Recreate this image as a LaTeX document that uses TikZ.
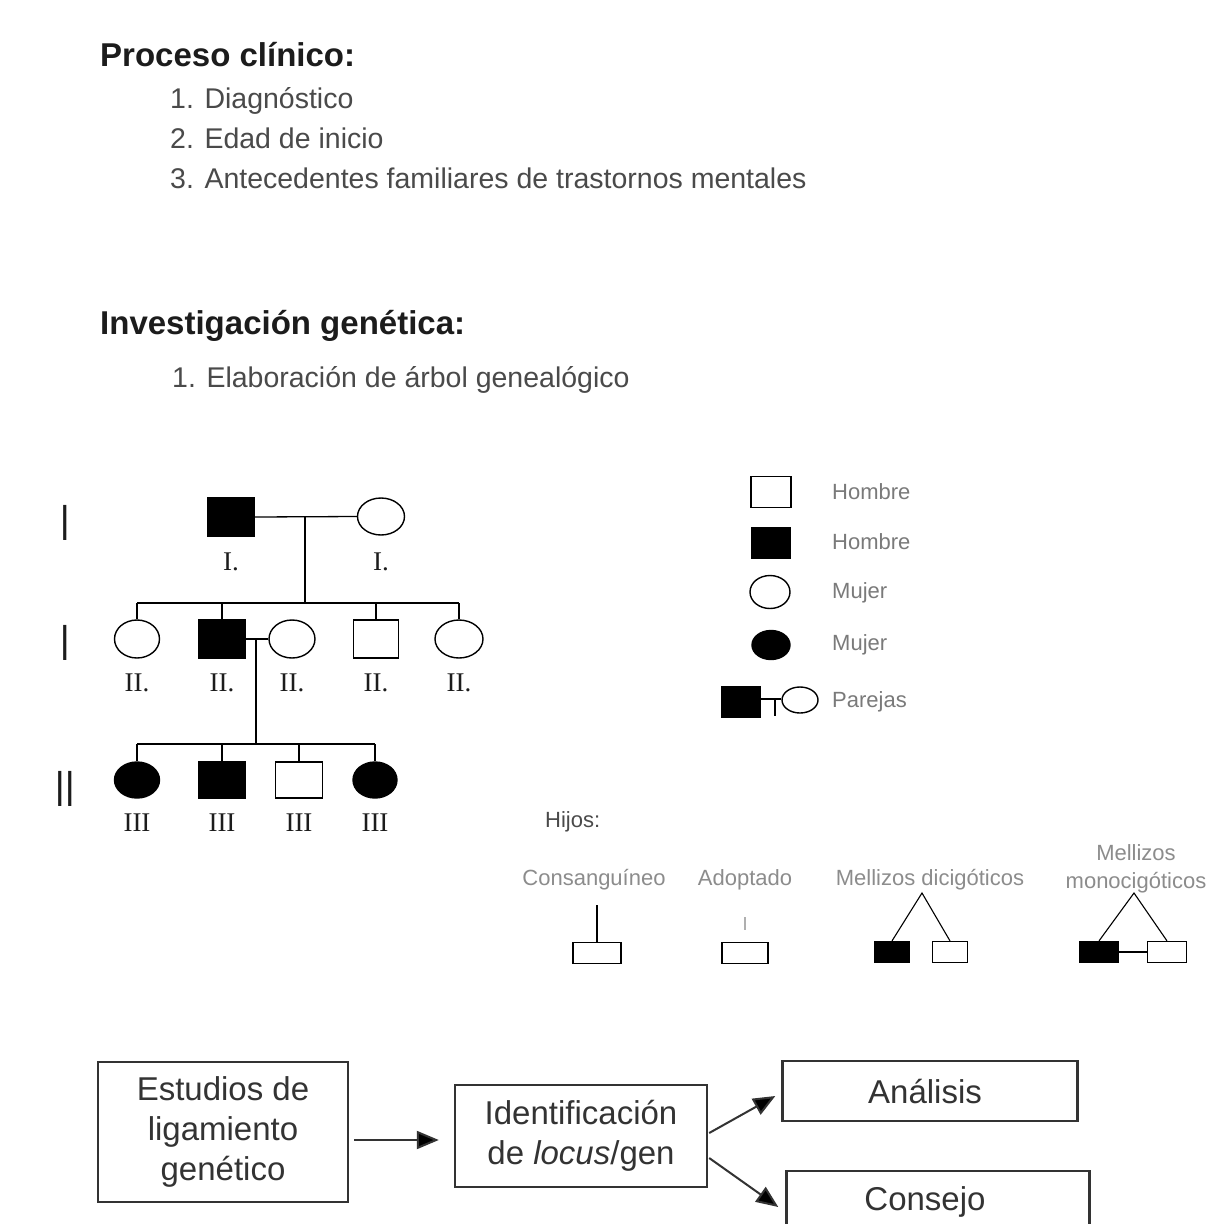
\documentclass[tikz,border=0pt]{standalone}
\usepackage{fontspec}
\setmainfont{Liberation Sans}
\newfontfamily\pedserif{Liberation Serif}
\usetikzlibrary{shapes.geometric,arrows.meta,calc}

\definecolor{inkdark}{HTML}{1C1C1C}
\definecolor{inktext}{HTML}{4A4A4A}
\definecolor{inklight}{HTML}{7A7A7A}
\definecolor{inkpale}{HTML}{8C8C8C}
\definecolor{boxline}{HTML}{333333}

\tikzset{
  heading/.style={anchor=base west, inner sep=0, text=inkdark,
    font=\fontsize{33}{33}\selectfont\bfseries},
  item/.style={anchor=base west, inner sep=0, text=inktext,
    font=\fontsize{28.5}{28.5}\selectfont},
  person/.style={draw=black, line width=1.4pt, inner sep=0},
  male/.style={person, rectangle, minimum width=46pt, minimum height=38pt},
  female/.style={person, ellipse, minimum width=46pt, minimum height=38pt},
  affected/.style={fill=black},
  kin/.style={line width=1.3pt, draw=black},
  idlabel/.style={inner sep=0, text=inkdark, font=\pedserif\fontsize{27}{27}\selectfont},
  genlabel/.style={inner sep=0, text=inkdark},
  legendtext/.style={anchor=west, inner sep=0, text=inklight,
    font=\fontsize{22}{22}\selectfont},
  smalltext/.style={inner sep=0, text=inkpale, font=\fontsize{22}{28}\selectfont,
    align=center},
  kidbox/.style={draw=black, line width=1.2pt, rectangle, inner sep=0,
    minimum width=46pt, minimum height=21pt},
  thin/.style={line width=1.1pt, draw=black},
  flowbox/.style={draw=boxline, line width=2.4pt, rectangle, inner sep=0,
    text=boxline, align=center, font=\fontsize{33}{40}\selectfont},
  flowarrow/.style={line width=2pt, draw=boxline,
    -{Triangle[length=22pt,width=18pt,fill=black]}}
}

\begin{document}
\begin{tikzpicture}[x=1pt,y=-1pt]
\useasboundingbox (0,0) rectangle (1215,1224);
\fill[white] (0,0) rectangle (1215,1224);
\clip (0,0) rectangle (1215,1224);

% ---- headings and lists ----
\node[heading] (h1) at (100,66) {Proceso clínico:};
\node[item] (p1) at (170,108) {1. Diagnóstico};
\node[item] (p2) at (170,148) {2. Edad de inicio};
\node[item] (p3) at (170,188) {3. Antecedentes familiares de trastornos mentales};

\node[heading] (h2) at (100,334) {Investigación genética:};
\node[item] (g1) at (172,387) {1. Elaboración de árbol genealógico};

% ---- generation markers ----
\node[genlabel] (gen1) at (65,523) {\scalebox{1}[1.5]{\fontsize{34}{34}\selectfont I}};
\node[genlabel] (gen2) at (65,643) {\scalebox{1}[1.5]{\fontsize{34}{34}\selectfont I}};
\node[genlabel] (gen3) at (65,789) {\scalebox{1}[1.5]{\fontsize{34}{34}\selectfont II}};

% ---- generation I ----
\node[male, affected] (f1) at (231,517) {};
\node[female, minimum width=47pt, minimum height=37pt] (m1) at (381,516.5) {};
\coordinate (c1) at (305,517);
\coordinate (s1) at (305,603);
\draw[kin] (f1.east) -- (m1.west);
\draw[kin] (c1) -- (s1);
\node[idlabel] (lf1) at (231,562) {I.};
\node[idlabel] (lm1) at (381,562) {I.};

% ---- generation II ----
\node[female, minimum width=45pt] (a2) at (137,639) {};
\node[male, affected] (b2) at (222,639) {};
\node[female] (c2) at (292,639) {};
\node[male, minimum width=45pt] (d2) at (376,639) {};
\node[female, minimum width=48pt] (e2) at (459,639) {};
\draw[kin] (a2.north |- s1) -- (e2.north |- s1);
\foreach \p in {a2,b2,d2,e2} \draw[kin] (\p.north |- s1) -- (\p.north);
\draw[kin] (b2.east) -- (c2.west);
\coordinate (c2j) at (256,639);
\coordinate (s2) at (256,744);
\draw[kin] (c2j) -- (s2);
\foreach \p in {a2,b2,c2,d2,e2}
  \node[idlabel] at (\p |- 0,683) {II.};

% ---- generation III ----
\node[female, affected, minimum width=45pt, minimum height=36pt] (f3) at (137,780) {};
\node[male, affected, minimum height=36pt] (g3) at (222,780) {};
\node[male, minimum width=47pt, minimum height=36pt] (h3) at (299,780) {};
\node[female, affected, minimum width=44pt, minimum height=36pt] (i3) at (375,780) {};
\draw[kin] (f3.north |- s2) -- (i3.north |- s2);
\foreach \p in {f3,g3,h3,i3} \draw[kin] (\p.north |- s2) -- (\p.north);
\foreach \p in {f3,g3,h3,i3}
  \node[idlabel] at (\p |- 0,823) {III};

% ---- legend ----
\node[male, minimum width=40pt, minimum height=31pt] (l1) at (771,492) {};
\node[male, affected, minimum width=38pt, minimum height=31pt] (l2) at (771,543) {};
\node[female, minimum width=40pt, minimum height=33pt] (l3) at (770,592) {};
\node[female, affected, minimum width=38pt, minimum height=29pt] (l4) at (771,645) {};
\node[male, affected, minimum width=38pt, minimum height=30pt] (l5) at (741,702) {};
\node[female, minimum width=36pt, minimum height=26pt] (l6) at (800,700) {};
\draw[kin] (l5.east |- 0,699) -- (l6.west |- 0,699);
\coordinate (l56) at (775,699);
\coordinate (l56b) at (775,716);
\draw[kin] (l56) -- (l56b);
\node[legendtext] (t1) at (832,492) {Hombre};
\node[legendtext] (t2) at (832,542) {Hombre};
\node[legendtext] (t3) at (832,593) {Mujer};
\node[legendtext] (t4) at (832,645) {Mujer};
\node[legendtext] (t5) at (832,702) {Parejas};

% ---- offspring symbols ----
\node[legendtext, text=inktext] (hijos) at (545,822) {Hijos:};
\node[smalltext] (k1t) at (594,880) {Consanguíneo};
\node[smalltext] (k2t) at (745,880) {Adoptado};
\node[smalltext] (k3t) at (930,880) {Mellizos dicigóticos};
\node[smalltext, anchor=base] (k4t) at (1136,888) {Mellizos\\monocigóticos};

\node[kidbox, minimum width=48pt] (k1) at (597,953) {};
\coordinate (k1top) at (597,905);
\draw[thin] (k1top) -- (k1.north);

\node[kidbox] (k2) at (745,953) {};
\coordinate (k2a) at (745,917);
\coordinate (k2b) at (745,930);
\draw[line width=1.2pt, draw=inkpale!70] (k2a) -- (k2b);

\node[kidbox, affected, minimum width=35pt] (k3a) at (892,952) {};
\node[kidbox, minimum width=35pt] (k3b) at (950,952) {};
\coordinate (k3top) at (922,893);
\draw[thin] (k3a.north) -- (k3top) -- (k3b.north);

\node[kidbox, affected, minimum width=38pt] (k4a) at (1099,952) {};
\node[kidbox, minimum width=39pt] (k4b) at (1167,952) {};
\coordinate (k4top) at (1134,893);
\draw[thin] (k4a.north) -- (k4top) -- (k4b.north);
\draw[thin] (k4a.east) -- (k4b.west);

% ---- flow of the study ----
\node[flowbox, minimum width=250pt, minimum height=140pt] (est) at (223,1132)
  {Estudios de\\ligamiento\\genético};
\node[flowbox, minimum width=252pt, minimum height=102pt] (ide) at (581,1136)
  {Identificación\\de \textit{locus}/gen};
\node[flowbox, minimum width=295pt, minimum height=60pt] (ana) at (930,1091)
  {\hspace*{-10pt}Análisis};
\node[flowbox, minimum width=303pt, minimum height=62pt] (con) at (938,1202)
  {\hspace*{-26pt}Consejo};

\draw[flowarrow] ($(est.east)+(5,8)$) -- ($(ide.west)+(-15,4)$);
\draw[flowarrow] ($(ide.east)+(1,-3)$) -- ($(ana.west)+(-6,5)$);
\draw[flowarrow] ($(ide.east)+(1,22)$) -- ($(con.west)+(-7,5)$);
\end{tikzpicture}
\end{document}
